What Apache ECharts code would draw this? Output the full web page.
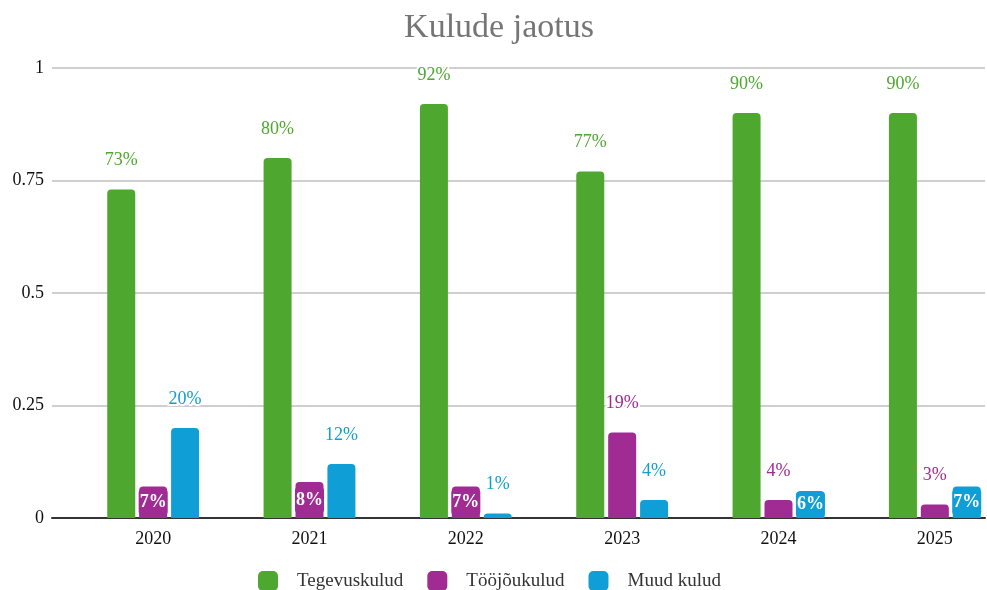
<!DOCTYPE html>
<html><head><meta charset="utf-8">
<script src="https://cdn.jsdelivr.net/npm/echarts@6/dist/echarts.min.js"></script>
<style>html,body{margin:0;padding:0;background:#fff;overflow:hidden;width:987px;height:590px}#c{width:1015px;height:590px}</style>
</head><body><div id="c"></div>
<script>
const categories = ['2020','2021','2022','2023','2024','2025'];
const tegevuskulud = [0.73, 0.80, 0.92, 0.77, 0.90, 0.90];
const toojoukulud = [0.07, 0.08, 0.07, 0.19, 0.04, 0.03];
const muudKulud = [0.20, 0.12, 0.01, 0.04, 0.06, 0.07];
const seriesNames = ['Tegevuskulud', 'Tööjõukulud', 'Muud kulud'];
const colors = ['#4EA72E', '#A02B93', '#0F9ED5'];
const font = '"Liberation Serif", "Times New Roman", serif';

function mkData(vals, color) {
  return vals.map(v => {
    const inside = v >= 0.05 && v < 0.1;
    return {
      value: v,
      label: inside ? {
        position: 'inside', color: '#fff', fontWeight: 'bold', fontSize: 18,
        backgroundColor: color, padding: [4, 1, 3, 1], borderRadius: 3,
        textBorderWidth: 0
      } : {}
    };
  });
}
function mkSeries(name, vals, color) {
  return {
    name, type: 'bar', xAxisIndex: 1, yAxisIndex: 1,
    barWidth: 28, barGap: '14%',
    itemStyle: { color, borderRadius: [4, 4, 0, 0] },
    label: {
      show: true, position: 'top', distance: 20,
      formatter: p => Math.round(p.value * 100) + '%',
      color, fontFamily: font, fontSize: 18,
      textBorderColor: '#fff', textBorderWidth: 4
    },
    data: mkData(vals, color)
  };
}

const chart = echarts.init(document.getElementById('c'));
chart.setOption({
  animation: false,
  color: colors,
  title: {
    text: 'Kulude jaotus', left: 494, textAlign: 'center', top: 6,
    textStyle: { fontFamily: font, fontSize: 34, fontWeight: 'normal', color: '#757575' }
  },
  legend: {
    bottom: -6, left: 253, itemWidth: 20, itemHeight: 20, itemGap: 24,
    icon: 'roundRect',
    textStyle: { fontFamily: font, fontSize: 19, color: '#333', padding: [0, 0, 0, 14] },
    data: seriesNames
  },
  grid: [
    { left: 52, width: 933, top: 68, bottom: 72 },
    { left: 75, width: 938, top: 68, bottom: 72 }
  ],
  xAxis: [
    { type: 'value', gridIndex: 0, min: 0, max: 1, axisLabel: { show: false },
      splitLine: { show: false }, axisTick: { show: false },
      axisLine: { show: true, onZero: false, lineStyle: { color: '#333', width: 2 } } },
    { type: 'category', gridIndex: 1, data: categories,
      axisLine: { show: false }, axisTick: { show: false },
      axisLabel: { fontFamily: font, fontSize: 18, color: '#111', margin: 12 } }
  ],
  yAxis: [
    { type: 'value', gridIndex: 0, min: 0, max: 1, interval: 0.25,
      axisLine: { show: false }, axisTick: { show: false },
      axisLabel: { fontFamily: font, fontSize: 18, color: '#111', margin: 8 },
      splitLine: { lineStyle: { color: '#cfcfcf', width: 2 } } },
    { type: 'value', gridIndex: 1, min: 0, max: 1, show: false }
  ],
  series: [
    mkSeries(seriesNames[0], tegevuskulud, colors[0]),
    mkSeries(seriesNames[1], toojoukulud, colors[1]),
    mkSeries(seriesNames[2], muudKulud, colors[2])
  ]
});
</script>
</body></html>
